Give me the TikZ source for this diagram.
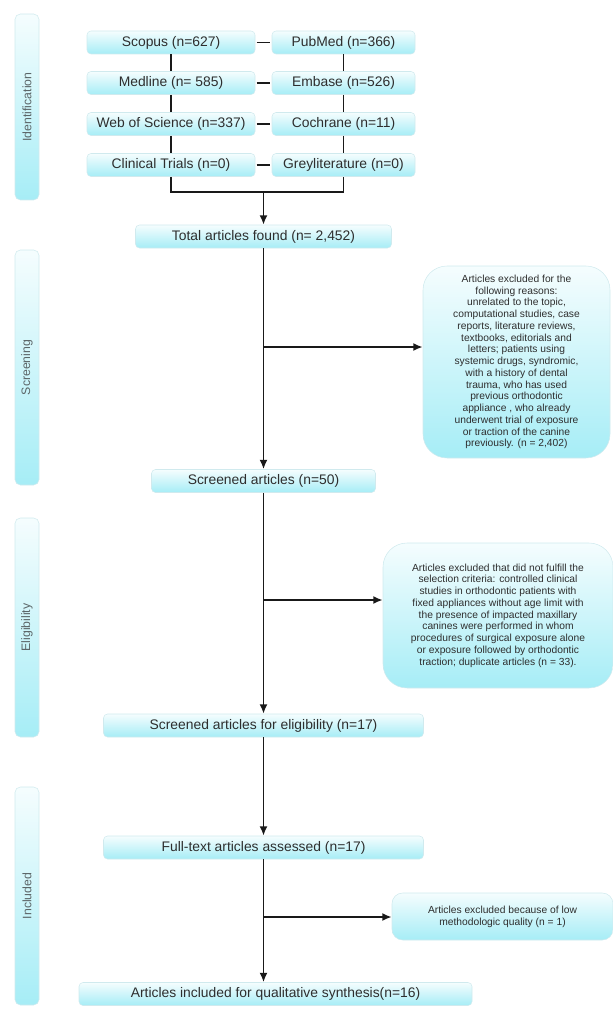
\documentclass[tikz,border=0pt]{standalone}
\usepackage{fontspec}
\setmainfont{Liberation Sans}
\usepackage{tikz}
\usetikzlibrary{arrows.meta,calc,positioning}
\usepackage{xcolor}
\definecolor{FlowCyan}{HTML}{A6EDF6}
\definecolor{FlowLight}{HTML}{F5FDFE}
\definecolor{FlowEdge}{HTML}{D0EAEE}
\definecolor{FlowText}{HTML}{2E2E2E}
\definecolor{FlowLabel}{HTML}{5C6668}

\begin{document}
\begin{tikzpicture}[x=0.75pt,y=-0.75pt,
    box/.style={draw=FlowEdge,rounded corners=3pt,top color=FlowLight,bottom color=FlowCyan,
      text=FlowText,font=\fontsize{10.4}{12}\selectfont,minimum height=17.25pt,inner sep=0pt},
    excl/.style={box,align=center,font=\fontsize{7.7}{8.8}\selectfont,rounded corners=18pt},
    phase/.style={draw=FlowEdge,rounded corners=4pt,rotate=90,top color=FlowLight,bottom color=FlowCyan,
      text=FlowLabel,font=\fontsize{9.2}{11}\selectfont,minimum height=18pt,inner sep=0pt},
    link/.style={line width=1.4pt,draw=black!90},
    arrow/.style={link,-{Latex[length=7pt,width=6pt]}}]
    \useasboundingbox (0,0) rectangle (613,1009);

    \node[phase,minimum width=139.5pt] (identification) at (27,107) {Identification};
    \node[phase,minimum width=176.25pt] (screening) at (27,367.5) {Screening};
    \node[phase,minimum width=164.25pt] (eligibility) at (27,627.5) {Eligibility};
    \node[phase,minimum width=163.5pt] (included) at (27,896) {Included};

    \foreach \y/\l/\r/\n in {42.5/{Scopus (n=627)}/{PubMed (n=366)}/1,
                             83/{Medline (n= 585)}/{Embase (n=526)}/2,
                             124/{Web of Science (n=337)}/{Cochrane (n=11)}/3,
                             165/{Clinical Trials (n=0)}/{Greyliterature (n=0)}/4} {
     \node[box,minimum width=126pt] (L\n) at (171,\y) {\l};
     \node[box,minimum width=107.25pt] (R\n) at (343.5,\y) {\r};
     \draw[link,shorten <=1pt,shorten >=1pt] (L\n.east) -- (R\n.west);
    }
    \foreach \a/\b in {1/2,2/3,3/4} {
     \draw[link] (L\a) -- (L\b);
     \draw[link] (R\a) -- (R\b);
    }
    \coordinate (join) at (263.5,192);
    \draw[link] (L4.south) |- (join) -| (R4.south);

    \node[box,minimum width=192pt] (total) at (263.5,236.5) {Total articles found (n= 2,452)};
    \node[box,minimum width=168pt] (screened) at (263.5,481) {Screened articles (n=50)};
    \node[box,minimum width=240pt] (eligible) at (263.5,725.5) {Screened articles for eligibility (n=17)};
    \node[box,minimum width=240pt] (fulltext) at (263.5,847.5) {Full-text articles assessed (n=17)};
    \node[box,minimum width=294.75pt] (synthesis) at (275.5,994) {Articles included for qualitative synthesis(n=16)};

    \node[excl,minimum width=140.25pt,minimum height=144pt] (reasons) at (516.5,362)
     {Articles excluded for the\\following reasons:\\unrelated to the topic,\\computational studies, case\\
      reports, literature reviews,\\textbooks, editorials and\\letters; patients using\\
      systemic drugs, syndromic,\\with a history of dental\\trauma, who has used\\
      previous orthodontic\\appliance , who already\\underwent trial of exposure\\
      or traction of the canine\\previously. (n = 2,402)};
    \node[excl,minimum width=172.5pt,minimum height=108.75pt] (criteria) at (498,615.5)
     {Articles excluded that did not fulfill the\\selection criteria: controlled clinical\\
      studies in orthodontic patients with\\fixed appliances without age limit with\\
      the presence of impacted maxillary\\canines were performed in whom\\
      procedures of surgical exposure alone\\or exposure followed by orthodontic\\
      traction; duplicate articles (n = 33).};
    \node[excl,rounded corners=8pt,minimum width=165.75pt,minimum height=35.25pt] (quality) at (502.5,916.5)
     {Articles excluded because of low\\methodologic quality (n = 1)};

    \draw[arrow] (join) -- (total);
    \draw[arrow] (total) -- (screened);
    \draw[arrow] (screened) -- (eligible);
    \draw[arrow] (eligible) -- (fulltext);
    \draw[arrow] (fulltext) -- (fulltext |- synthesis.north);

    \coordinate (b1) at (263.5,347);
    \coordinate (b2) at (263.5,600);
    \coordinate (b3) at (263.5,917);
    \draw[arrow] (b1) -- (b1 -| reasons.west);
    \draw[arrow] (b2) -- (b2 -| criteria.west);
    \draw[arrow] (b3) -- (b3 -| quality.west);
\end{tikzpicture}
\end{document}
